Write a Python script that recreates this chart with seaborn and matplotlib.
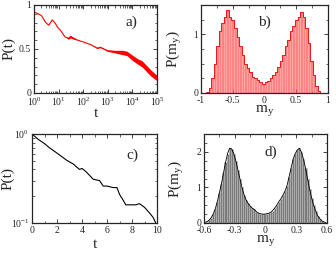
import numpy as np
import pandas as pd
import matplotlib as mpl
import matplotlib.pyplot as plt
import matplotlib.ticker as mticker
import seaborn as sns

sns.set_style("ticks")
mpl.rc('font', family=['Liberation Serif', 'DejaVu Serif'])
mpl.rc('mathtext', fontset='stix')
mpl.rc('axes', unicode_minus=False)

# panel a) P(t), log time
t_a = [1, 1.5, 2, 3, 4, 5.5, 7, 9, 12, 18, 25, 30, 42, 60, 100, 200, 370, 500, 700,
       1000, 2000, 4000, 6000, 10000, 16000, 25000, 40000, 60000, 100000]
p_a = [0.92, 0.90, 0.88, 0.80, 0.77, 0.83, 0.80, 0.75, 0.71, 0.64, 0.62, 0.64, 0.62,
       0.60, 0.58, 0.55, 0.51, 0.52, 0.50, 0.48, 0.47, 0.46, 0.45, 0.40, 0.36,
       0.33, 0.27, 0.22, 0.17]
w_a = [0.0, 0.0, 0.0, 0.0, 0.0, 0.0, 0.0, 0.0, 0.0, 0.0, 0.01, 0.015, 0.01,
       0.0, 0.0, 0.0, 0.005, 0.005, 0.005, 0.008, 0.015, 0.025, 0.025, 0.03, 0.03,
       0.035, 0.035, 0.035, 0.03]

# panel b) histogram of m_y
edges_b = np.arange(-0.92, 0.9201, 0.04)
h_b = [0.02, 0.08, 0.25, 0.5, 0.8, 1.05, 1.2, 1.3, 1.42, 1.3, 1.25, 1.1, 0.95,
       0.8, 0.65, 0.5, 0.42, 0.35, 0.28, 0.25, 0.22, 0.18, 0.15, 0.18, 0.2, 0.25,
       0.3, 0.35, 0.45, 0.55, 0.65, 0.8, 0.9, 1.05, 1.15, 1.25, 1.3, 1.38, 1.3,
       1.1, 0.85, 0.55, 0.3, 0.12, 0.03, 0.0]

# panel c) P(t), log P
t_c = [0, 0.5, 1.0, 1.4, 2.0, 2.75, 3.3, 3.8, 4.0, 4.3, 4.9, 5.4, 5.7, 6.0, 6.5,
       6.8, 7.0, 7.3, 7.5, 8.0, 8.3, 8.6, 9.0, 9.4, 9.7, 9.9]
p_c = [1.0, 0.87, 0.78, 0.70, 0.61, 0.51, 0.46, 0.40, 0.41, 0.38, 0.31, 0.30,
       0.26, 0.26, 0.25, 0.25, 0.21, 0.18, 0.16, 0.16, 0.16, 0.165, 0.15, 0.13,
       0.115, 0.10]

# panel d) histogram of m_y
edges_d = np.arange(-0.6, 0.6001, 0.02)
h_d = [0.02, 0.04, 0.08, 0.15, 0.25, 0.4, 0.6, 0.85, 1.1, 1.4, 1.7, 1.95, 2.1,
       2.08, 1.95, 1.75, 1.5, 1.25, 1.0, 0.8, 0.65, 0.55, 0.48, 0.42, 0.38, 0.32,
       0.28, 0.26, 0.25, 0.25, 0.26, 0.27, 0.3, 0.35, 0.42, 0.5, 0.6, 0.68, 0.78,
       0.9, 1.05, 1.3, 1.55, 1.8, 1.95, 2.05, 2.1, 2.0, 1.8, 1.55, 1.25, 0.95,
       0.7, 0.5, 0.33, 0.2, 0.12, 0.06, 0.03, 0.01]

df_b = pd.DataFrame({'m': (edges_b[:-1] + edges_b[1:]) / 2, 'h': h_b})
df_d = pd.DataFrame({'m': (edges_d[:-1] + edges_d[1:]) / 2, 'h': h_d})

fig = plt.figure(figsize=(3.36, 2.57), dpi=100)
W, H = 336, 257
def ax_at(l, t, r, b):
    return fig.add_axes([l / W, 1 - b / H, (r - l) / W, (b - t) / H])

ax1 = ax_at(34, 5, 157, 93)
ax2 = ax_at(201, 5, 328, 93)
ax3 = ax_at(32, 134, 157, 223)
ax4 = ax_at(204, 134, 327, 223)

# a)
lo = np.array(p_a) - np.array(w_a)
hi = np.array(p_a) + np.array(w_a)
ax1.fill_between(t_a, lo, hi, color='red', lw=0)
sns.lineplot(x=t_a, y=p_a, ax=ax1, color='red', lw=0.8)
ax1.set_xscale('log')
ax1.set_xlim(1, 1e5)
ax1.set_ylim(0, 1)
ax1.set_yticks([0, 0.5, 1])
ax1.set_yticklabels(['0', '0.5', '1'])
ax1.yaxis.set_minor_locator(mticker.MultipleLocator(0.1))
ax1.xaxis.set_major_locator(mticker.LogLocator(base=10, numticks=10))
ax1.xaxis.set_minor_locator(mticker.LogLocator(base=10, subs=np.arange(2, 10), numticks=20))
ax1.xaxis.set_minor_formatter(mticker.NullFormatter())
ax1.set_xlabel('t', fontsize=11, labelpad=-1)
ax1.set_ylabel('P(t)', fontsize=11)
ax1.yaxis.set_label_coords(-0.15, 0.5)
ax1.text(0.79, 0.8, 'a)', transform=ax1.transAxes, fontsize=11, ha='center', va='center')

# b)
sns.histplot(data=df_b, x='m', weights='h', bins=list(edges_b), ax=ax2,
             color='#ff5a5a', alpha=0.75, edgecolor='#ffb0b0', linewidth=0.4)
sns.histplot(data=df_b, x='m', weights='h', bins=list(edges_b), ax=ax2,
             element='step', fill=False, color='#e00000', linewidth=0.6)
ax2.set_xlim(-1, 1)
ax2.set_ylim(0, 1.5)
ax2.set_xticks([-1, -0.5, 0, 0.5, 1])
ax2.set_xticklabels(['-1', '-0.5', '0', '0.5', '1'])
ax2.set_yticks([0, 1])
ax2.yaxis.set_minor_locator(mticker.MultipleLocator(0.25))
ax2.xaxis.set_minor_locator(mticker.MultipleLocator(0.25))
ax2.set_xlabel('m$_\\mathregular{y}$', fontsize=11, labelpad=-1)
ax2.set_ylabel('P(m$_\\mathregular{y}$)', fontsize=11)
ax2.yaxis.set_label_coords(-0.13, 0.5)
ax2.text(0.5, 0.8, 'b)', transform=ax2.transAxes, fontsize=11, ha='center', va='center')

# c)
sns.lineplot(x=t_c, y=p_c, ax=ax3, color='black', lw=0.8)
ax3.set_yscale('log')
ax3.set_xlim(0, 10)
ax3.set_ylim(0.1, 1)
ax3.set_xticks([0, 2, 4, 6, 8, 10])
ax3.xaxis.set_minor_locator(mticker.MultipleLocator(1))
ax3.yaxis.set_major_locator(mticker.LogLocator(base=10))
ax3.yaxis.set_minor_locator(mticker.LogLocator(base=10, subs=np.arange(2, 10)))
ax3.yaxis.set_minor_formatter(mticker.NullFormatter())
ax3.set_xlabel('t', fontsize=11, labelpad=2)
ax3.set_ylabel('P(t)', fontsize=11)
ax3.yaxis.set_label_coords(-0.14, 0.5)
ax3.text(0.8, 0.76, 'c)', transform=ax3.transAxes, fontsize=11, ha='center', va='center')

# d)
sns.histplot(data=df_d, x='m', weights='h', bins=list(edges_d), ax=ax4,
             color='#7a7a7a', alpha=1, edgecolor='#b8b8b8', linewidth=0.4)
sns.histplot(data=df_d, x='m', weights='h', bins=list(edges_d), ax=ax4,
             element='poly', fill=False, color='black', linewidth=0.6)
ax4.set_xlim(-0.6, 0.6)
ax4.set_ylim(0, 2.5)
ax4.set_xticks([-0.6, -0.3, 0, 0.3, 0.6])
ax4.set_xticklabels(['-0.6', '-0.3', '0', '0.3', '0.6'])
ax4.set_yticks([0, 1, 2])
ax4.yaxis.set_minor_locator(mticker.MultipleLocator(0.25))
ax4.xaxis.set_minor_locator(mticker.MultipleLocator(0.15))
ax4.set_xlabel('m$_\\mathregular{y}$', fontsize=11, labelpad=-1)
ax4.set_ylabel('P(m$_\\mathregular{y}$)', fontsize=11)
ax4.yaxis.set_label_coords(-0.15, 0.5)
ax4.text(0.54, 0.79, 'd)', transform=ax4.transAxes, fontsize=11, ha='center', va='center')

for ax in (ax1, ax2, ax3, ax4):
    ax.tick_params(which='both', direction='in', labelsize=7, pad=2,
                   top=True, right=True, labeltop=False, labelright=False)
    ax.tick_params(which='major', length=3, width=0.6)
    ax.tick_params(which='minor', length=1.8, width=0.5)
    for s in ax.spines.values():
        s.set_linewidth(0.9)
    ax.set_facecolor('white')

fig.savefig('out.png', dpi=100)
